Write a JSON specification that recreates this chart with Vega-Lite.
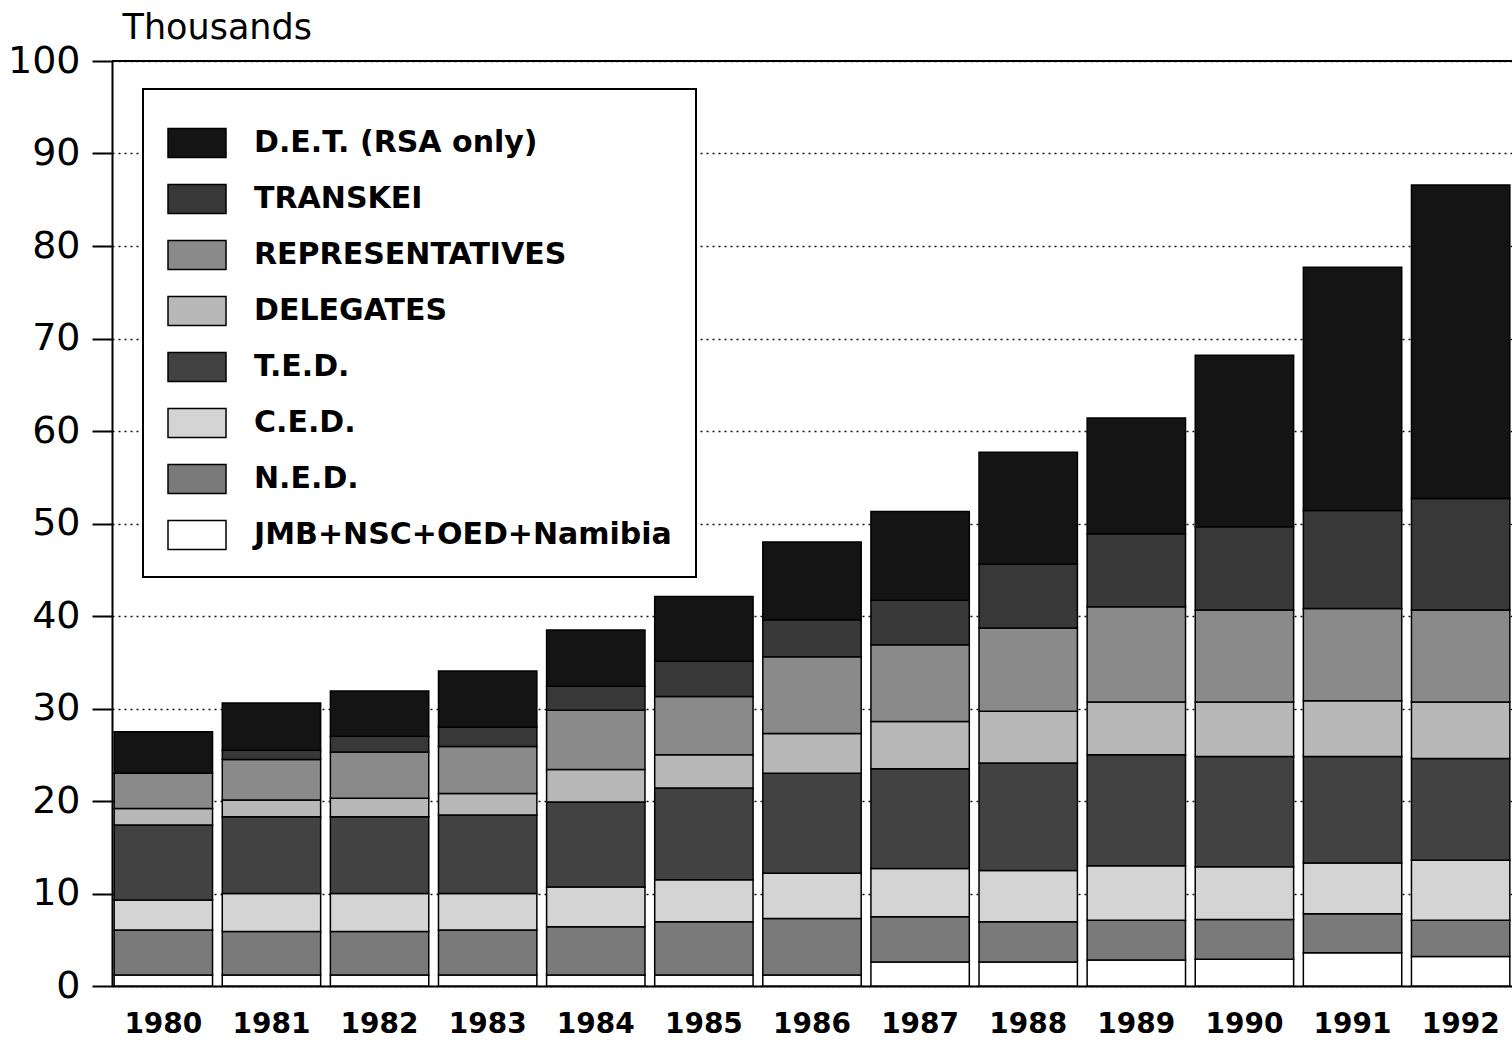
{
  "$schema": "https://vega.github.io/schema/vega-lite/v6.json",
  "width": 1400,
  "height": 925,
  "autosize": {"type": "none"},
  "padding": {"left": 112, "top": 61, "right": 0, "bottom": 54},
  "background": "white",
  "config": {"view": {"stroke": null}, "font": "DejaVu Sans"},
  "layer": [
    {
      "data": {
        "values": [
          {"year": "1980", "category": "JMB+NSC+OED+Namibia", "rank": 1, "value": 1.2},
          {"year": "1980", "category": "N.E.D.", "rank": 2, "value": 4.85},
          {"year": "1980", "category": "C.E.D.", "rank": 3, "value": 3.25},
          {"year": "1980", "category": "T.E.D.", "rank": 4, "value": 8.1},
          {"year": "1980", "category": "DELEGATES", "rank": 5, "value": 1.8},
          {"year": "1980", "category": "REPRESENTATIVES", "rank": 6, "value": 3.8},
          {"year": "1980", "category": "TRANSKEI", "rank": 7, "value": 0},
          {"year": "1980", "category": "D.E.T. (RSA only)", "rank": 8, "value": 4.5},
          {"year": "1981", "category": "JMB+NSC+OED+Namibia", "rank": 1, "value": 1.2},
          {"year": "1981", "category": "N.E.D.", "rank": 2, "value": 4.7},
          {"year": "1981", "category": "C.E.D.", "rank": 3, "value": 4.1},
          {"year": "1981", "category": "T.E.D.", "rank": 4, "value": 8.3},
          {"year": "1981", "category": "DELEGATES", "rank": 5, "value": 1.8},
          {"year": "1981", "category": "REPRESENTATIVES", "rank": 6, "value": 4.4},
          {"year": "1981", "category": "TRANSKEI", "rank": 7, "value": 1.0},
          {"year": "1981", "category": "D.E.T. (RSA only)", "rank": 8, "value": 5.1},
          {"year": "1982", "category": "JMB+NSC+OED+Namibia", "rank": 1, "value": 1.2},
          {"year": "1982", "category": "N.E.D.", "rank": 2, "value": 4.7},
          {"year": "1982", "category": "C.E.D.", "rank": 3, "value": 4.1},
          {"year": "1982", "category": "T.E.D.", "rank": 4, "value": 8.3},
          {"year": "1982", "category": "DELEGATES", "rank": 5, "value": 2.0},
          {"year": "1982", "category": "REPRESENTATIVES", "rank": 6, "value": 5.0},
          {"year": "1982", "category": "TRANSKEI", "rank": 7, "value": 1.7},
          {"year": "1982", "category": "D.E.T. (RSA only)", "rank": 8, "value": 4.9},
          {"year": "1983", "category": "JMB+NSC+OED+Namibia", "rank": 1, "value": 1.2},
          {"year": "1983", "category": "N.E.D.", "rank": 2, "value": 4.85},
          {"year": "1983", "category": "C.E.D.", "rank": 3, "value": 3.95},
          {"year": "1983", "category": "T.E.D.", "rank": 4, "value": 8.5},
          {"year": "1983", "category": "DELEGATES", "rank": 5, "value": 2.3},
          {"year": "1983", "category": "REPRESENTATIVES", "rank": 6, "value": 5.1},
          {"year": "1983", "category": "TRANSKEI", "rank": 7, "value": 2.1},
          {"year": "1983", "category": "D.E.T. (RSA only)", "rank": 8, "value": 6.05},
          {"year": "1984", "category": "JMB+NSC+OED+Namibia", "rank": 1, "value": 1.2},
          {"year": "1984", "category": "N.E.D.", "rank": 2, "value": 5.2},
          {"year": "1984", "category": "C.E.D.", "rank": 3, "value": 4.3},
          {"year": "1984", "category": "T.E.D.", "rank": 4, "value": 9.2},
          {"year": "1984", "category": "DELEGATES", "rank": 5, "value": 3.5},
          {"year": "1984", "category": "REPRESENTATIVES", "rank": 6, "value": 6.4},
          {"year": "1984", "category": "TRANSKEI", "rank": 7, "value": 2.6},
          {"year": "1984", "category": "D.E.T. (RSA only)", "rank": 8, "value": 6.1},
          {"year": "1985", "category": "JMB+NSC+OED+Namibia", "rank": 1, "value": 1.2},
          {"year": "1985", "category": "N.E.D.", "rank": 2, "value": 5.75},
          {"year": "1985", "category": "C.E.D.", "rank": 3, "value": 4.55},
          {"year": "1985", "category": "T.E.D.", "rank": 4, "value": 9.9},
          {"year": "1985", "category": "DELEGATES", "rank": 5, "value": 3.6},
          {"year": "1985", "category": "REPRESENTATIVES", "rank": 6, "value": 6.3},
          {"year": "1985", "category": "TRANSKEI", "rank": 7, "value": 3.8},
          {"year": "1985", "category": "D.E.T. (RSA only)", "rank": 8, "value": 7.0},
          {"year": "1986", "category": "JMB+NSC+OED+Namibia", "rank": 1, "value": 1.2},
          {"year": "1986", "category": "N.E.D.", "rank": 2, "value": 6.1},
          {"year": "1986", "category": "C.E.D.", "rank": 3, "value": 4.9},
          {"year": "1986", "category": "T.E.D.", "rank": 4, "value": 10.8},
          {"year": "1986", "category": "DELEGATES", "rank": 5, "value": 4.3},
          {"year": "1986", "category": "REPRESENTATIVES", "rank": 6, "value": 8.3},
          {"year": "1986", "category": "TRANSKEI", "rank": 7, "value": 4.0},
          {"year": "1986", "category": "D.E.T. (RSA only)", "rank": 8, "value": 8.4},
          {"year": "1987", "category": "JMB+NSC+OED+Namibia", "rank": 1, "value": 2.6},
          {"year": "1987", "category": "N.E.D.", "rank": 2, "value": 4.9},
          {"year": "1987", "category": "C.E.D.", "rank": 3, "value": 5.2},
          {"year": "1987", "category": "T.E.D.", "rank": 4, "value": 10.8},
          {"year": "1987", "category": "DELEGATES", "rank": 5, "value": 5.1},
          {"year": "1987", "category": "REPRESENTATIVES", "rank": 6, "value": 8.3},
          {"year": "1987", "category": "TRANSKEI", "rank": 7, "value": 4.8},
          {"year": "1987", "category": "D.E.T. (RSA only)", "rank": 8, "value": 9.6},
          {"year": "1988", "category": "JMB+NSC+OED+Namibia", "rank": 1, "value": 2.6},
          {"year": "1988", "category": "N.E.D.", "rank": 2, "value": 4.35},
          {"year": "1988", "category": "C.E.D.", "rank": 3, "value": 5.55},
          {"year": "1988", "category": "T.E.D.", "rank": 4, "value": 11.6},
          {"year": "1988", "category": "DELEGATES", "rank": 5, "value": 5.6},
          {"year": "1988", "category": "REPRESENTATIVES", "rank": 6, "value": 9.0},
          {"year": "1988", "category": "TRANSKEI", "rank": 7, "value": 6.9},
          {"year": "1988", "category": "D.E.T. (RSA only)", "rank": 8, "value": 12.1},
          {"year": "1989", "category": "JMB+NSC+OED+Namibia", "rank": 1, "value": 2.8},
          {"year": "1989", "category": "N.E.D.", "rank": 2, "value": 4.3},
          {"year": "1989", "category": "C.E.D.", "rank": 3, "value": 5.9},
          {"year": "1989", "category": "T.E.D.", "rank": 4, "value": 12.0},
          {"year": "1989", "category": "DELEGATES", "rank": 5, "value": 5.7},
          {"year": "1989", "category": "REPRESENTATIVES", "rank": 6, "value": 10.3},
          {"year": "1989", "category": "TRANSKEI", "rank": 7, "value": 7.9},
          {"year": "1989", "category": "D.E.T. (RSA only)", "rank": 8, "value": 12.5},
          {"year": "1990", "category": "JMB+NSC+OED+Namibia", "rank": 1, "value": 2.9},
          {"year": "1990", "category": "N.E.D.", "rank": 2, "value": 4.3},
          {"year": "1990", "category": "C.E.D.", "rank": 3, "value": 5.7},
          {"year": "1990", "category": "T.E.D.", "rank": 4, "value": 11.9},
          {"year": "1990", "category": "DELEGATES", "rank": 5, "value": 5.9},
          {"year": "1990", "category": "REPRESENTATIVES", "rank": 6, "value": 9.95},
          {"year": "1990", "category": "TRANSKEI", "rank": 7, "value": 9.0},
          {"year": "1990", "category": "D.E.T. (RSA only)", "rank": 8, "value": 18.55},
          {"year": "1991", "category": "JMB+NSC+OED+Namibia", "rank": 1, "value": 3.6},
          {"year": "1991", "category": "N.E.D.", "rank": 2, "value": 4.2},
          {"year": "1991", "category": "C.E.D.", "rank": 3, "value": 5.5},
          {"year": "1991", "category": "T.E.D.", "rank": 4, "value": 11.5},
          {"year": "1991", "category": "DELEGATES", "rank": 5, "value": 6.05},
          {"year": "1991", "category": "REPRESENTATIVES", "rank": 6, "value": 9.95},
          {"year": "1991", "category": "TRANSKEI", "rank": 7, "value": 10.6},
          {"year": "1991", "category": "D.E.T. (RSA only)", "rank": 8, "value": 26.3},
          {"year": "1992", "category": "JMB+NSC+OED+Namibia", "rank": 1, "value": 3.2},
          {"year": "1992", "category": "N.E.D.", "rank": 2, "value": 3.9},
          {"year": "1992", "category": "C.E.D.", "rank": 3, "value": 6.5},
          {"year": "1992", "category": "T.E.D.", "rank": 4, "value": 11.0},
          {"year": "1992", "category": "DELEGATES", "rank": 5, "value": 6.1},
          {"year": "1992", "category": "REPRESENTATIVES", "rank": 6, "value": 9.95},
          {"year": "1992", "category": "TRANSKEI", "rank": 7, "value": 12.05},
          {"year": "1992", "category": "D.E.T. (RSA only)", "rank": 8, "value": 33.9}
        ]
      },
      "mark": {"type": "bar", "stroke": "black", "strokeWidth": 1.5},
      "encoding": {
        "x": {
          "field": "year", "type": "ordinal",
          "scale": {"paddingInner": 0.09, "paddingOuter": 0.02},
          "axis": {"title": null, "labelAngle": 0, "ticks": false, "labelPadding": 24, "labelFont": "DejaVu Sans", "labelFontSize": 28, "labelFontWeight": "bold", "labelColor": "black", "domainColor": "black", "domainWidth": 2}
        },
        "y": {
          "field": "value", "type": "quantitative", "stack": "zero",
          "scale": {"domain": [0, 100], "nice": false},
          "axis": {
            "values": [0, 10, 20, 30, 40, 50, 60, 70, 80, 90, 100],
            "grid": true, "gridDash": [2, 4], "gridColor": "#111111", "gridWidth": 1.5,
            "domainColor": "black", "domainWidth": 2, "tickColor": "black", "tickWidth": 2, "tickSize": 20,
            "labelFont": "DejaVu Sans", "labelFontSize": 38, "labelColor": "black", "labelPadding": 12,
            "title": "Thousands", "titleAngle": 0, "titleX": 10, "titleY": -23, "titleAlign": "left", "titleBaseline": "alphabetic",
            "titleFont": "DejaVu Sans", "titleFontSize": 35, "titleFontWeight": "normal", "titleColor": "black"
          }
        },
        "order": {"field": "rank", "type": "quantitative", "sort": "ascending"},
        "color": {
          "field": "category", "type": "nominal",
          "sort": ["D.E.T. (RSA only)", "TRANSKEI", "REPRESENTATIVES", "DELEGATES", "T.E.D.", "C.E.D.", "N.E.D.", "JMB+NSC+OED+Namibia"],
          "scale": {
            "domain": ["D.E.T. (RSA only)", "TRANSKEI", "REPRESENTATIVES", "DELEGATES", "T.E.D.", "C.E.D.", "N.E.D.", "JMB+NSC+OED+Namibia"],
            "range": ["#141414", "#383838", "#8a8a8a", "#b8b8b8", "#424242", "#d4d4d4", "#7a7a7a", "#ffffff"]
          },
          "legend": {
            "orient": "none", "legendX": 31, "legendY": 28, "title": null, "padding": 24,
            "fillColor": "white", "strokeColor": "black",
            "symbolType": "M-1,-0.5H1V0.5H-1Z", "symbolSize": 3364, "symbolStrokeColor": "black", "symbolStrokeWidth": 1.5, "symbolOpacity": 1,
            "labelFont": "DejaVu Sans", "labelFontSize": 30, "labelFontWeight": "bold", "labelColor": "black", "labelOffset": 27, "rowPadding": 8, "labelLimit": 700,
            "encode": {"legend": {"update": {"strokeWidth": {"value": 2}}}}
          }
        }
      }
    },
    {
      "data": {"values": [{"level": 100}]},
      "mark": {"type": "rule", "color": "black", "strokeWidth": 2},
      "encoding": {"y": {"field": "level", "type": "quantitative"}}
    }
  ]
}
